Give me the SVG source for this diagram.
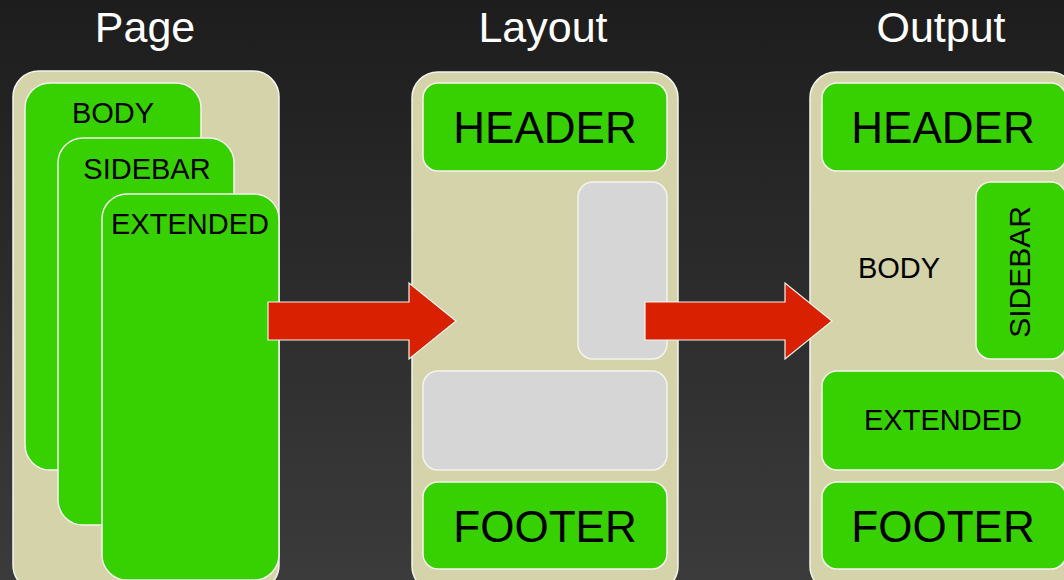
<svg xmlns="http://www.w3.org/2000/svg" width="1064" height="580" viewBox="0 0 1064 580">
  <defs>
    <linearGradient id="bg" x1="0" y1="0" x2="0" y2="1">
      <stop offset="0" stop-color="#1d1d1d"/>
      <stop offset="1" stop-color="#3b3b3b"/>
    </linearGradient>
    <style>
      .panel { fill: #d5d3aa; stroke: #f4f4ee; stroke-width: 1.5; }
      .green { fill: #37d000; stroke: #f4f4ee; stroke-width: 1.5; }
      .grey { fill: #d6d6d6; stroke: #f4f4ee; stroke-width: 1.5; }
      .arrow { fill: #d92000; stroke: #f4f4ee; stroke-width: 1.2; }
      .title { font-family: "Liberation Sans", Arial, sans-serif; font-size: 43px; fill: #ffffff; text-anchor: middle; }
      .lbl { font-family: "Liberation Sans", Arial, sans-serif; fill: #000000; text-anchor: middle; }
      .sm { font-size: 29px; }
      .lg { font-size: 44px; }
    </style>
  </defs>

  <rect width="1064" height="580" fill="url(#bg)"/>

  <!-- column titles -->
  <text class="title" x="145" y="42">Page</text>
  <text class="title" x="543" y="42">Layout</text>
  <text class="title" x="941" y="42">Output</text>

  <!-- Page column: stacked content sources -->
  <g id="page">
    <rect class="panel" x="13" y="71" width="266" height="520" rx="26"/>
    <g id="page-body">
      <rect class="green" x="25" y="83" width="176" height="387" rx="25"/>
      <text class="lbl sm" x="113" y="123">BODY</text>
    </g>
    <g id="page-sidebar">
      <rect class="green" x="58" y="138" width="176" height="387" rx="25"/>
      <text class="lbl sm" x="147" y="179">SIDEBAR</text>
    </g>
    <g id="page-extended">
      <rect class="green" x="102" y="194" width="177" height="386" rx="25"/>
      <text class="lbl sm" x="190" y="234">EXTENDED</text>
    </g>
  </g>

  <!-- Layout column: template slots -->
  <g id="layout">
    <rect class="panel" x="412" y="72" width="266" height="520" rx="26"/>
    <g id="layout-header">
      <rect class="green" x="423" y="83" width="244" height="88" rx="15"/>
      <text class="lbl lg" x="545" y="143">HEADER</text>
    </g>
    <g id="layout-sidebar-slot">
      <rect class="grey" x="578" y="182" width="89" height="177" rx="15"/>
    </g>
    <g id="layout-extended-slot">
      <rect class="grey" x="423" y="371" width="244" height="99" rx="15"/>
    </g>
    <g id="layout-footer">
      <rect class="green" x="423" y="482" width="244" height="87" rx="15"/>
      <text class="lbl lg" x="545" y="542">FOOTER</text>
    </g>
  </g>

  <!-- Output column: composed page -->
  <g id="output">
    <rect class="panel" x="810" y="72" width="266" height="520" rx="26"/>
    <g id="output-header">
      <rect class="green" x="822" y="83" width="244" height="88" rx="15"/>
      <text class="lbl lg" x="943" y="143">HEADER</text>
    </g>
    <g id="output-body">
      <text class="lbl sm" x="899" y="278">BODY</text>
    </g>
    <g id="output-sidebar">
      <rect class="green" x="976" y="182" width="90" height="177" rx="15"/>
      <text class="lbl" font-size="30" transform="translate(1030 272) rotate(-90)" x="0" y="0">SIDEBAR</text>
    </g>
    <g id="output-extended">
      <rect class="green" x="822" y="371" width="244" height="99" rx="15"/>
      <text class="lbl sm" x="943" y="430">EXTENDED</text>
    </g>
    <g id="output-footer">
      <rect class="green" x="822" y="482" width="244" height="87" rx="15"/>
      <text class="lbl lg" x="943" y="542">FOOTER</text>
    </g>
  </g>

  <!-- flow arrows -->
  <g id="connectors">
    <polygon class="arrow" points="268,302 409,302 409,283 456,321 409,359 409,340 268,340"/>
    <polygon class="arrow" points="645,302 785,302 785,283 832,321 785,359 785,340 645,340"/>
  </g>
</svg>
